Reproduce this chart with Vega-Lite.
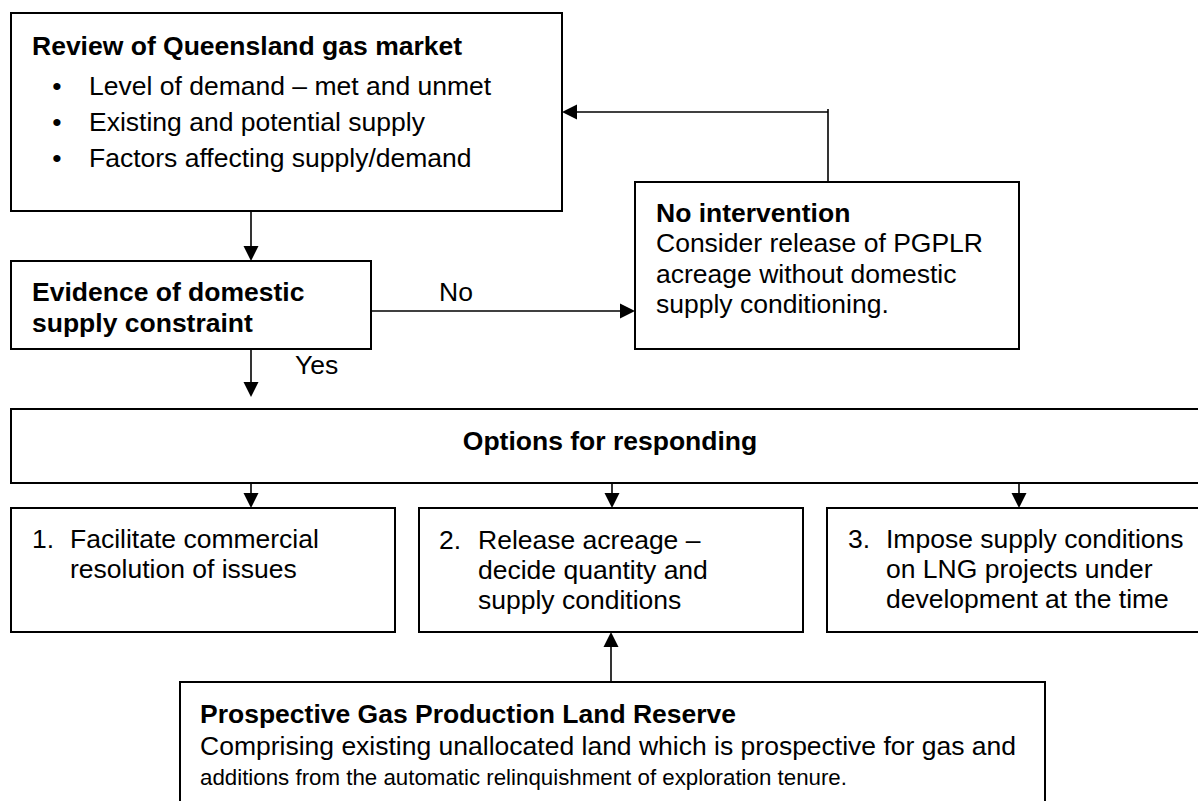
{
  "$schema": "https://vega.github.io/schema/vega-lite/v6.json",
  "width": 1198,
  "height": 801,
  "autosize": {"type": "fit", "contains": "padding"},
  "padding": 0,
  "background": "white",
  "config": {"view": {"stroke": null}},
  "datasets": {
    "boxes": [
      {"id": "review", "x1": 11, "y1": 13, "x2": 562, "y2": 211},
      {"id": "evidence", "x1": 11, "y1": 261, "x2": 371, "y2": 349},
      {"id": "nointervention", "x1": 635, "y1": 182, "x2": 1019, "y2": 349},
      {"id": "options", "x1": 11, "y1": 409, "x2": 1215, "y2": 483},
      {"id": "opt1", "x1": 11, "y1": 508, "x2": 395, "y2": 632},
      {"id": "opt2", "x1": 419, "y1": 508, "x2": 803, "y2": 632},
      {"id": "opt3", "x1": 827, "y1": 508, "x2": 1215, "y2": 632},
      {"id": "pgplr", "x1": 180, "y1": 682, "x2": 1045, "y2": 830}
    ],
    "lines": [
      {"x1": 251, "y1": 211, "x2": 251, "y2": 250},
      {"x1": 371, "y1": 311, "x2": 624, "y2": 311},
      {"x1": 828, "y1": 182, "x2": 828, "y2": 109},
      {"x1": 828, "y1": 112, "x2": 572, "y2": 112},
      {"x1": 251, "y1": 349, "x2": 251, "y2": 386},
      {"x1": 251, "y1": 483, "x2": 251, "y2": 497},
      {"x1": 612, "y1": 483, "x2": 612, "y2": 497},
      {"x1": 1019, "y1": 483, "x2": 1019, "y2": 497},
      {"x1": 611, "y1": 682, "x2": 611, "y2": 643}
    ],
    "arrows": [
      {"x": 251, "y": 261, "dir": "down"},
      {"x": 635, "y": 311, "dir": "right"},
      {"x": 562, "y": 112, "dir": "left"},
      {"x": 251, "y": 397, "dir": "down"},
      {"x": 251, "y": 508, "dir": "down"},
      {"x": 612, "y": 508, "dir": "down"},
      {"x": 1019, "y": 508, "dir": "down"},
      {"x": 611, "y": 632, "dir": "up"}
    ],
    "texts": [
      {"role": "bold", "x": 32, "y": 55, "text": "Review of Queensland gas market"},
      {"role": "bullet", "x": 57, "y": 95, "text": "•"},
      {"role": "body", "x": 89, "y": 95, "text": "Level of demand – met and unmet"},
      {"role": "bullet", "x": 57, "y": 131, "text": "•"},
      {"role": "body", "x": 89, "y": 131, "text": "Existing and potential supply"},
      {"role": "bullet", "x": 57, "y": 167, "text": "•"},
      {"role": "body", "x": 89, "y": 167, "text": "Factors affecting supply/demand"},
      {"role": "bold", "x": 32, "y": 301, "text": "Evidence of domestic"},
      {"role": "bold", "x": 32, "y": 332, "text": "supply constraint"},
      {"role": "body", "x": 439, "y": 301, "text": "No"},
      {"role": "body", "x": 295, "y": 374, "text": "Yes"},
      {"role": "bold", "x": 656, "y": 222, "text": "No intervention"},
      {"role": "body", "x": 656, "y": 252, "text": "Consider release of PGPLR"},
      {"role": "body", "x": 656, "y": 283, "text": "acreage without domestic"},
      {"role": "body", "x": 656, "y": 313, "text": "supply conditioning."},
      {"role": "boldcenter", "x": 610, "y": 450, "text": "Options for responding"},
      {"role": "body", "x": 32, "y": 548, "text": "1."},
      {"role": "body", "x": 70, "y": 548, "text": "Facilitate commercial"},
      {"role": "body", "x": 70, "y": 578, "text": "resolution of issues"},
      {"role": "body", "x": 439, "y": 549, "text": "2."},
      {"role": "body", "x": 478, "y": 549, "text": "Release acreage –"},
      {"role": "body", "x": 478, "y": 579, "text": "decide quantity and"},
      {"role": "body", "x": 478, "y": 609, "text": "supply conditions"},
      {"role": "body", "x": 848, "y": 548, "text": "3."},
      {"role": "body", "x": 886, "y": 548, "text": "Impose supply conditions"},
      {"role": "body", "x": 886, "y": 578, "text": "on LNG projects under"},
      {"role": "body", "x": 886, "y": 608, "text": "development at the time"},
      {"role": "bold", "x": 200, "y": 723, "text": "Prospective Gas Production Land Reserve"},
      {"role": "body", "x": 200, "y": 755, "text": "Comprising existing unallocated land which is prospective for gas and"},
      {"role": "small", "x": 200, "y": 785, "text": "additions from the automatic relinquishment of exploration tenure."}
    ]
  },
  "layer": [
    {
      "data": {"name": "boxes"},
      "mark": {"type": "rect", "fill": "white", "stroke": "black", "strokeWidth": 2, "clip": true},
      "encoding": {
        "x": {"field": "x1", "type": "quantitative", "scale": {"domain": [0, 1198], "nice": false, "zero": false}, "axis": null},
        "x2": {"field": "x2"},
        "y": {"field": "y1", "type": "quantitative", "scale": {"domain": [0, 801], "reverse": true, "nice": false, "zero": false}, "axis": null},
        "y2": {"field": "y2"}
      }
    },
    {
      "data": {"name": "lines"},
      "mark": {"type": "rule", "stroke": "black", "strokeWidth": 1.6},
      "encoding": {
        "x": {"field": "x1", "type": "quantitative", "scale": {"domain": [0, 1198], "nice": false, "zero": false}, "axis": null},
        "x2": {"field": "x2"},
        "y": {"field": "y1", "type": "quantitative", "scale": {"domain": [0, 801], "reverse": true, "nice": false, "zero": false}, "axis": null},
        "y2": {"field": "y2"}
      }
    },
    {
      "data": {"name": "arrows"},
      "mark": {"type": "point", "filled": true, "fill": "black", "opacity": 1, "size": 900, "strokeWidth": 0},
      "encoding": {
        "x": {"field": "x", "type": "quantitative", "scale": {"domain": [0, 1198], "nice": false, "zero": false}, "axis": null},
        "y": {"field": "y", "type": "quantitative", "scale": {"domain": [0, 801], "reverse": true, "nice": false, "zero": false}, "axis": null},
        "shape": {
          "field": "dir",
          "type": "nominal",
          "legend": null,
          "scale": {
            "domain": ["down", "up", "left", "right"],
            "range": ["M0,0L-0.5,-1L0.5,-1Z", "M0,0L-0.5,1L0.5,1Z", "M0,0L1,-0.5L1,0.5Z", "M0,0L-1,-0.5L-1,0.5Z"]
          }
        }
      }
    },
    {
      "data": {"name": "texts"},
      "transform": [{"filter": "datum.role === 'bold'"}],
      "mark": {"type": "text", "font": "Liberation Sans", "fontWeight": "bold", "fontSize": 26.5, "align": "left", "baseline": "alphabetic", "color": "black"},
      "encoding": {
        "x": {"field": "x", "type": "quantitative", "scale": {"domain": [0, 1198], "nice": false, "zero": false}, "axis": null},
        "y": {"field": "y", "type": "quantitative", "scale": {"domain": [0, 801], "reverse": true, "nice": false, "zero": false}, "axis": null},
        "text": {"field": "text"}
      }
    },
    {
      "data": {"name": "texts"},
      "transform": [{"filter": "datum.role === 'boldcenter'"}],
      "mark": {"type": "text", "font": "Liberation Sans", "fontWeight": "bold", "fontSize": 26.5, "align": "center", "baseline": "alphabetic", "color": "black"},
      "encoding": {
        "x": {"field": "x", "type": "quantitative", "scale": {"domain": [0, 1198], "nice": false, "zero": false}, "axis": null},
        "y": {"field": "y", "type": "quantitative", "scale": {"domain": [0, 801], "reverse": true, "nice": false, "zero": false}, "axis": null},
        "text": {"field": "text"}
      }
    },
    {
      "data": {"name": "texts"},
      "transform": [{"filter": "datum.role === 'body'"}],
      "mark": {"type": "text", "font": "Liberation Sans", "fontSize": 26.5, "align": "left", "baseline": "alphabetic", "color": "black"},
      "encoding": {
        "x": {"field": "x", "type": "quantitative", "scale": {"domain": [0, 1198], "nice": false, "zero": false}, "axis": null},
        "y": {"field": "y", "type": "quantitative", "scale": {"domain": [0, 801], "reverse": true, "nice": false, "zero": false}, "axis": null},
        "text": {"field": "text"}
      }
    },
    {
      "data": {"name": "texts"},
      "transform": [{"filter": "datum.role === 'small'"}],
      "mark": {"type": "text", "font": "Liberation Sans", "fontSize": 22.3, "align": "left", "baseline": "alphabetic", "color": "black"},
      "encoding": {
        "x": {"field": "x", "type": "quantitative", "scale": {"domain": [0, 1198], "nice": false, "zero": false}, "axis": null},
        "y": {"field": "y", "type": "quantitative", "scale": {"domain": [0, 801], "reverse": true, "nice": false, "zero": false}, "axis": null},
        "text": {"field": "text"}
      }
    },
    {
      "data": {"name": "texts"},
      "transform": [{"filter": "datum.role === 'bullet'"}],
      "mark": {"type": "text", "font": "Liberation Sans", "fontSize": 26.5, "align": "center", "baseline": "alphabetic", "color": "black"},
      "encoding": {
        "x": {"field": "x", "type": "quantitative", "scale": {"domain": [0, 1198], "nice": false, "zero": false}, "axis": null},
        "y": {"field": "y", "type": "quantitative", "scale": {"domain": [0, 801], "reverse": true, "nice": false, "zero": false}, "axis": null},
        "text": {"field": "text"}
      }
    }
  ]
}
